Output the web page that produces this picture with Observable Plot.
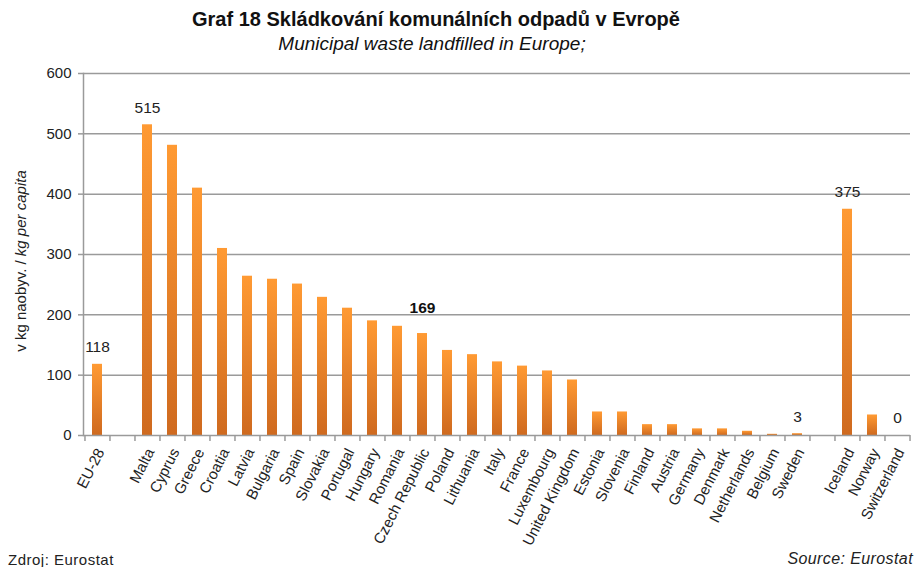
<!DOCTYPE html>
<html>
<head>
<meta charset="utf-8">
<script src="https://cdn.jsdelivr.net/npm/d3@7"></script>
<script src="https://cdn.jsdelivr.net/npm/@observablehq/plot@0.6"></script>
<style>
  html, body { margin: 0; padding: 0; background: #fff; }
  #page { position: relative; width: 916px; height: 567px; overflow: hidden;
          font-family: "Liberation Sans", Arial, sans-serif; color: #111; }
  #title { position: absolute; top: 8px; left: 0; width: 872px; text-align: center;
           font-weight: bold; font-size: 20px; }
  #subtitle { position: absolute; top: 33px; left: 0; width: 864px; text-align: center;
              font-style: italic; font-size: 19px; }
  #chart { position: absolute; top: 55px; left: 0; }
  #ylabel { position: absolute; left: 20px; top: 261px; white-space: nowrap;
            transform: translate(-50%, -50%) rotate(-90deg); font-size: 15px; color: #222; }
  #src-cz { position: absolute; left: 8px; top: 551px; font-size: 15px; letter-spacing: 0.5px; color: #222; }
  #src-en { position: absolute; right: 3px; top: 550px; font-size: 16px; letter-spacing: 0.4px; font-style: italic; color: #222; }
</style>
</head>
<body>
<div id="page">
  <div id="title">Graf 18 Skládkování komunálních odpadů v Evropě</div>
  <div id="subtitle">Municipal waste landfilled in Europe;</div>
  <div id="chart"></div>
  <div id="ylabel">v kg naobyv. / <i>kg per capita</i></div>
  <div id="src-cz">Zdroj: Eurostat</div>
  <div id="src-en">Source: Eurostat</div>
</div>
<script>
// ---- data ----
const categories = ["EU-28", " ", "Malta", "Cyprus", "Greece", "Croatia", "Latvia", "Bulgaria", "Spain",
  "Slovakia", "Portugal", "Hungary", "Romania", "Czech Republic", "Poland", "Lithuania", "Italy",
  "France", "Luxembourg", "United Kingdom", "Estonia", "Slovenia", "Finland", "Austria", "Germany",
  "Denmark", "Netherlands", "Belgium", "Sweden", "  ", "Iceland", "Norway", "Switzerland"];
const countries = ["EU-28", "Malta", "Cyprus", "Greece", "Croatia", "Latvia", "Bulgaria", "Spain",
  "Slovakia", "Portugal", "Hungary", "Romania", "Czech Republic", "Poland", "Lithuania", "Italy",
  "France", "Luxembourg", "United Kingdom", "Estonia", "Slovenia", "Finland", "Austria", "Germany",
  "Denmark", "Netherlands", "Belgium", "Sweden", "Iceland", "Norway", "Switzerland"];
const values = [118, 515, 481, 410, 310, 264, 259, 251, 229, 211, 190, 181, 169, 141, 134, 122,
  115, 107, 92, 39, 39, 18, 18, 11, 11, 7, 2, 3, 375, 34, 0];
const labelled = ["EU-28", "Malta", "Sweden", "Iceland", "Switzerland"];
const highlighted = ["Czech Republic"];
const yTicks = [0, 100, 200, 300, 400, 500, 600];

const data = countries.map((c, i) => ({country: c, value: values[i]}));
const labelData = data.filter(d => labelled.includes(d.country));
const highData = data.filter(d => highlighted.includes(d.country));

const W = 916, H = 495, mL = 83, mR = 6;
const step = (W - mL - mR) / categories.length;
const grey = "#9a9a9a";

const chart = Plot.plot({
  width: W, height: H,
  marginTop: 18, marginBottom: 115, marginLeft: mL, marginRight: mR,
  style: {fontFamily: "'Liberation Sans', Arial, sans-serif", color: "#222", background: "#fff"},
  x: {domain: categories, paddingInner: 0.6, paddingOuter: 0.3, axis: null},
  y: {domain: [0, 600], axis: null},
  marks: [
    Plot.gridY(yTicks.filter(t => t > 0), {stroke: grey, strokeOpacity: 1, strokeWidth: 1.5}),
    Plot.barY(data, {x: "country", y: "value", fill: "url(#barGrad)"}),
    Plot.ruleY([0], {stroke: grey, strokeWidth: 1.5}),
    Plot.frame({anchor: "left", stroke: grey, strokeWidth: 1.5}),
    Plot.axisY({ticks: yTicks, tickSize: 5, tickPadding: 7, fontSize: 15, stroke: grey, strokeWidth: 1.5, label: null, fill: "#222"}),
    Plot.axisX({tickSize: 6, tickFormat: () => "", dx: -step / 2, stroke: grey, strokeWidth: 1.5, label: null}),
    Plot.axisX({ticks: [categories[categories.length - 1]], tickSize: 6, tickFormat: () => "", dx: step / 2, stroke: grey, strokeWidth: 1.5, label: null}),
    Plot.axisX({tickSize: 0, tickPadding: 14, tickRotate: -63, fontSize: 15, label: null, fill: "#222",
      dx: 3, tickFormat: d => d.trim()}),
    Plot.text(labelData, {x: "country", y: "value", text: d => String(d.value), dy: -17, fontSize: 15.5, fill: "#222"}),
    Plot.text(highData, {x: "country", y: "value", text: d => String(d.value), dy: -26, fontSize: 15.5, fontWeight: "bold", fill: "#111"})
  ]
});

const ns = "http://www.w3.org/2000/svg";
const defs = document.createElementNS(ns, "defs");
defs.innerHTML = '<linearGradient id="barGrad" x1="0" y1="0" x2="0" y2="1">' +
  '<stop offset="0" stop-color="#ff9a33"/><stop offset="1" stop-color="#cf6a1f"/></linearGradient>';
chart.insertBefore(defs, chart.firstChild);
document.getElementById("chart").appendChild(chart);
</script>
</body>
</html>
